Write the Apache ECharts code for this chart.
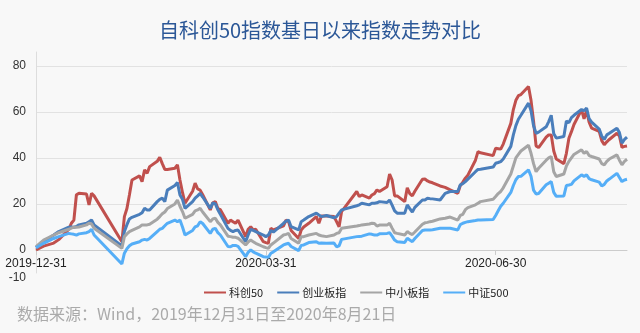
<!DOCTYPE html>
<html>
<head>
<meta charset="utf-8">
<script src="https://cdn.jsdelivr.net/npm/echarts@6/dist/echarts.min.js"></script>
<style>
  html, body { margin: 0; padding: 0; background: #f8f8f8; }
  #chart { width: 640px; height: 333px; }
</style>
</head>
<body>
<div id="chart"></div>
<script>
// Cumulative change since the base day (%), sampled on trading days
const tradeDates = [
  '2019-12-31','2020-01-03','2020-01-07','2020-01-09','2020-01-13','2020-01-14','2020-01-15','2020-01-16','2020-01-17','2020-01-20',
  '2020-01-21','2020-01-22','2020-01-23','2020-02-03','2020-02-04','2020-02-05','2020-02-06','2020-02-07','2020-02-10','2020-02-11',
  '2020-02-12','2020-02-13','2020-02-14','2020-02-17','2020-02-18','2020-02-19','2020-02-20','2020-02-21','2020-02-24','2020-02-25',
  '2020-02-26','2020-02-27','2020-02-28','2020-03-02','2020-03-03','2020-03-04','2020-03-05','2020-03-06','2020-03-09','2020-03-10',
  '2020-03-11','2020-03-12','2020-03-13','2020-03-16','2020-03-17','2020-03-18','2020-03-19','2020-03-20','2020-03-23','2020-03-24',
  '2020-03-25','2020-03-26','2020-03-27','2020-03-30','2020-03-31','2020-04-01','2020-04-02','2020-04-03','2020-04-07','2020-04-08',
  '2020-04-09','2020-04-10','2020-04-13','2020-04-14','2020-04-15','2020-04-17','2020-04-20','2020-04-21','2020-04-22','2020-04-24',
  '2020-04-27','2020-04-28','2020-04-29','2020-04-30','2020-05-06','2020-05-07','2020-05-08','2020-05-11','2020-05-12','2020-05-13',
  '2020-05-14','2020-05-15','2020-05-18','2020-05-19','2020-05-20','2020-05-21','2020-05-22','2020-05-25','2020-05-26','2020-05-27',
  '2020-05-28','2020-05-29','2020-06-01','2020-06-02','2020-06-03','2020-06-04','2020-06-05','2020-06-08','2020-06-10','2020-06-12',
  '2020-06-15','2020-06-16','2020-06-17','2020-06-18','2020-06-19','2020-06-22','2020-06-23','2020-06-24','2020-06-29','2020-06-30',
  '2020-07-01','2020-07-02','2020-07-03','2020-07-06','2020-07-07','2020-07-08','2020-07-09','2020-07-10','2020-07-13','2020-07-14',
  '2020-07-15','2020-07-16','2020-07-17','2020-07-20','2020-07-21','2020-07-22','2020-07-23','2020-07-24','2020-07-27','2020-07-28',
  '2020-07-29','2020-07-30','2020-07-31','2020-08-03','2020-08-04','2020-08-05','2020-08-06','2020-08-07','2020-08-10','2020-08-11',
  '2020-08-12','2020-08-13','2020-08-14','2020-08-17','2020-08-18','2020-08-19','2020-08-20','2020-08-21'
];

const kc50 = [
  0, 1.7, 3, 4.5, 9, 11.6, 13, 24, 24.6, 24.3,
  19.6, 24.6, 23.5, 3.6, 14.5, 18, 24, 30.4, 32.2, 29.7,
  34.8, 33.3, 36.2, 38.5, 40.3, 37.5, 35, 35, 35.5, 37,
  30.4, 25, 20.3, 25.5, 29, 26.5, 26, 24, 17.4, 20.5,
  21, 18, 17.5, 11.6, 13, 12.3, 11.6, 13, 5.8, 9,
  10.1, 8.7, 9, 3.6, 3.2, 2.9, 9.4, 8.7, 10.5, 13,
  12.3, 8.5, 5, 8.7, 10, 11.6, 14.5, 11.6, 14.8, 14.8,
  14.5, 12.3, 10.1, 16.7, 25.4, 23.2, 23.9, 22.5, 23.9, 24.5,
  26.1, 25.4, 27.5, 33, 30.4, 23.5, 23.5, 21, 27, 24.5,
  23.5, 25.5, 30.7, 30.8, 30, 29.5, 29.2, 27.8, 27.2, 26.1,
  24.6, 28, 29.5, 31.2, 32.5, 39, 42.7, 42.2, 41, 44.2,
  44, 43.8, 46, 55, 61, 65, 67, 67.5, 71, 65,
  56, 45.2, 44.5, 49, 50, 50, 43, 39.5, 37.5, 42,
  48.5, 51.4, 54.5, 60.9, 57, 60.5, 55.5, 52.9, 51.5, 47.5,
  45.7, 47, 48, 50.7, 49.5, 44.6, 45, 45.2
];

const cyb = [
  1, 3.6, 6.5, 8, 9.9, 10, 9.9, 10.2, 10.9, 11.6,
  12.3, 13, 10.9, 1.7, 8, 11, 13.5, 14.2, 15.5, 16.2,
  18.1, 17.4, 17.4, 21, 22, 22.5, 21, 26, 28, 29.3,
  23.9, 22, 18.1, 21, 22.5, 23.5, 24.6, 23, 18.1, 20.5,
  20, 17.5, 15.5, 9.4, 8.5, 8, 8.5, 8.7, 3.6, 6.5,
  9, 8.5, 8, 6.5, 5.8, 6.5, 8.5, 7.8, 11.6, 12.5,
  13, 10.1, 8.7, 12.3, 13, 14.5, 16, 15.2, 14.5, 15,
  14, 14.5, 16, 17.4, 19.2, 19.6, 20.3, 19.6, 20.3, 20.3,
  20.5, 21, 20.6, 21.7, 19.5, 17, 16, 16, 19.6, 18,
  16.5, 18.5, 21.7, 21.7, 22.5, 22.3, 22.2, 21.7, 24.6, 25.4,
  25.4, 28.3, 28.8, 29.7, 30.8, 34, 35, 35.1, 36, 37.7,
  38, 38.4, 39.5, 45, 50, 54, 56.8, 58.5, 63.8, 60.5,
  54, 50.7, 51.2, 53.5, 55.8, 58.5, 50.5, 48.6, 49.3, 56,
  55.3, 57.5, 58.5, 61, 60.5, 61.6, 57, 55.5, 52.5, 49.5,
  48, 50, 50.7, 52.9, 51, 46.4, 48, 49
];

const zxb = [
  1.5, 4.3, 6.5, 7.5, 9, 9.5, 9.9, 9.9, 10, 10.9,
  11.6, 11.3, 9.4, 0.7, 5.8, 7, 8, 8.5, 10, 10.9,
  10.9, 10.9, 11.2, 13.4, 14.5, 15.7, 16.5, 18, 20, 21.7,
  19, 16.7, 13.8, 15.5, 17, 17.4, 18.1, 16.5, 12.3, 13.5,
  13.8, 12, 10.9, 6, 5.8, 5.5, 5.5, 5.1, 2.2, 3.5,
  4.3, 3.6, 2.9, 1.4, 1, 0.7, 2.2, 3, 6.5, 6.8,
  7.2, 5, 2.9, 5.8, 5.8, 6.5, 7.2, 6.5, 6.2, 5.8,
  6.5, 7.2, 7.5, 9.4, 10.4, 10.6, 10.9, 11.3, 11.6, 11.5,
  10.4, 10.8, 10.8, 11.6, 9.5, 7.5, 7.2, 6.5, 8, 7.2,
  6.7, 7.8, 11.2, 11.8, 12, 12.3, 12.5, 13.5, 13.8, 14.3,
  13, 15, 15.5, 17.5, 18.4, 19.6, 20.3, 21, 22, 23.2,
  24.5, 25.4, 27, 33, 36.5, 40, 41.5, 43, 45.5, 42,
  37.5, 34, 35.5, 39, 40, 40.6, 34, 31.9, 33, 36.5,
  38.5, 40, 41.5, 43.5, 42, 42.8, 41, 40.6, 39.5, 37.5,
  37, 38.5, 39.5, 41.3, 39, 37, 38.5, 39.4
];

const zz500 = [
  1, 2.9, 5, 5.8, 7.2, 7, 6.8, 6.5, 7, 7.5,
  8, 9, 6.5, -6.1, -1.4, 0.5, 1.8, 2.6, 3.6, 4.3,
  4.6, 4.3, 5, 8, 9, 9.4, 10.5, 11.6, 13, 12.3,
  13, 10, 6.5, 8.5, 10, 10.5, 12.3, 11.5, 7.2, 9,
  9.4, 7.5, 6.5, 1.5, 1.4, 2, 2, 1.6, -2.9, -1,
  0, -0.8, -1.4, -2.9, -3, -3.2, -1.4, -0.8, 2.2, 2.6,
  2.9, 1.5, -0.3, 2, 2.2, 3.2, 3.6, 2.9, 3, 2.9,
  3, 1.4, 1.8, 4.6, 5.8, 5.9, 6, 7, 6.8, 6.5,
  6.5, 7, 7.2, 7.5, 6, 4.3, 3.6, 3.2, 5.1, 4.3,
  3.6, 5, 8.5, 8.7, 8.7, 8.7, 8.8, 9.4, 9.4, 9.4,
  8.7, 11, 11.6, 12, 12.3, 12.8, 13, 13, 13.2, 15,
  17, 19, 20.3, 25, 28, 30.5, 31.9, 32, 34.8, 32,
  26, 24.3, 24.5, 28.3, 29, 29.7, 25, 23.3, 23.5, 28,
  28.2, 28.5, 30, 32.6, 32, 32.6, 31, 30.5, 29.5, 27.8,
  28.5, 30, 30.8, 33.3, 31.5, 29.7, 30.4, 30.7
];

const seriesNames = ['科创50', '创业板指', '中小板指', '中证500'];
const seriesColors = ['#c0504d', '#4a7ebb', '#a5a5a5', '#55aef7'];
const axisLabelDates = ['2019-12-31', '2020-03-31', '2020-06-30'];
const yMin = -10, yMax = 86;

// Calendar-day axis between the first and last trading date
function calendarDays(first, last) {
  const out = [];
  const end = new Date(last + 'T00:00:00Z').getTime();
  for (let t = new Date(first + 'T00:00:00Z').getTime(); t <= end; t += 86400000) {
    out.push(new Date(t).toISOString().slice(0, 10));
  }
  return out;
}
const axisDays = calendarDays(tradeDates[0], tradeDates[tradeDates.length - 1]);

const values = [kc50, cyb, zxb, zz500];
const gridTop = 52, gridBottom = 60, chartHeight = 333;
// the date axis sits on the zero line, so shift it up from the grid bottom
const plotHeight = chartHeight - gridTop - gridBottom;
const zeroOffset = -plotHeight * (0 - yMin) / (yMax - yMin);

const chart = echarts.init(document.getElementById('chart'));
const fontFamily = '"Noto Sans CJK SC", "Noto Sans", sans-serif';
const numFont = '"Liberation Sans", Arial, sans-serif';

chart.setOption({
  backgroundColor: '#f8f8f8',
  animation: false,
  textStyle: { fontFamily: fontFamily },
  title: {
    text: '自科创50指数基日以来指数走势对比',
    left: 'center',
    top: 15,
    textStyle: { color: '#2b5797', fontSize: 20, fontWeight: 'normal', fontFamily: fontFamily }
  },
  legend: {
    data: seriesNames,
    left: 204,
    top: 287,
    padding: 0,
    icon: 'rect',
    itemWidth: 22,
    itemHeight: 2,
    itemGap: 14,
    textStyle: { color: '#222', fontSize: 11, padding: [0, 0, 0, -2] }
  },
  grid: { left: 36, right: 13, top: gridTop, bottom: gridBottom },
  xAxis: {
    type: 'category',
    data: axisDays,
    boundaryGap: false,
    offset: zeroOffset,
    axisLine: { onZero: false, lineStyle: { color: '#cccccc' } },
    axisTick: {
      interval: (i, v) => axisLabelDates.includes(v),
      lineStyle: { color: '#cccccc' },
      length: 5
    },
    axisLabel: {
      interval: (i, v) => axisLabelDates.includes(v),
      color: '#222',
      fontSize: 12,
      margin: 8,
      fontFamily: numFont
    },
    splitLine: { show: false }
  },
  yAxis: {
    type: 'value',
    min: yMin,
    max: yMax,
    axisLine: { show: true, lineStyle: { color: '#dddddd' } },
    axisTick: { show: false },
    axisLabel: {
      color: '#333',
      fontSize: 12,
      margin: 10,
      fontFamily: numFont,
      showMaxLabel: false,
      formatter: v => (v === yMin ? '{low|' + v + '}' : String(v)),
      rich: { low: { padding: [10, 0, 0, 0], fontSize: 12, fontFamily: numFont, color: '#333' } }
    },
    splitLine: { showMinLine: false, showMaxLine: false, lineStyle: { color: '#e2e2e2' } }
  },
  graphic: [{
    type: 'text',
    left: 17,
    top: 306,
    style: {
      text: '数据来源：Wind，2019年12月31日至2020年8月21日',
      fill: '#aaaaaa',
      font: '16px ' + fontFamily
    }
  }],
  series: seriesNames.map((name, k) => ({
    name: name,
    type: 'line',
    symbol: 'none',
    color: seriesColors[k],
    lineStyle: { width: 3, color: seriesColors[k] },
    data: tradeDates.map((d, i) => [d, values[k][i]])
  }))
});
</script>
</body>
</html>
